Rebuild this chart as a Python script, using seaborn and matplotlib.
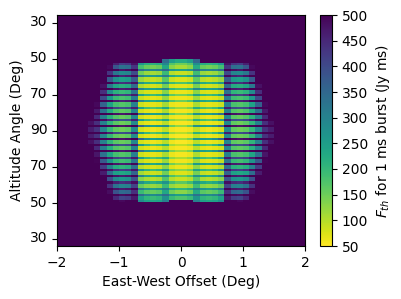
import numpy as np
import pandas as pd
import matplotlib
matplotlib.use("Agg")
import matplotlib.pyplot as plt
import seaborn as sns

# threshold values, 0.1 deg columns from -1.5 to 1.5
# bright part of each stripe, top to bottom
stripe_rows = [
    [500,500,500,500,500,500,500,500,500,500,500,500,340,250,225,225,250,350,500,500,500,500,500,500,500,500,500,500,500,500],
    [500,500,500,490,380,330,340,430,185,155,145,155,230,130,110,110,130,225,155,145,155,185,430,340,330,380,490,500,500,500],
    [500,500,500,430,320,285,295,395,150,120,110,120,195,100,88,88,100,190,120,110,120,150,395,295,285,320,430,500,500,500],
    [500,500,500,370,270,245,255,365,120,98,90,98,165,86,75,75,86,160,98,90,98,120,365,255,245,270,370,500,500,500],
    [500,500,480,320,235,215,225,345,105,86,78,86,145,76,68,68,76,140,86,78,86,105,345,225,215,235,320,480,500,500],
    [500,500,440,285,210,195,205,325,95,78,72,78,130,70,64,64,70,125,78,72,78,95,325,205,195,210,285,440,500,500],
    [500,500,400,260,195,180,190,310,90,74,68,74,120,67,61,61,67,115,74,68,74,90,310,190,180,195,260,400,500,500],
    [500,490,360,240,185,170,180,300,86,72,66,72,110,65,60,60,65,108,72,66,72,86,300,180,170,185,240,360,490,500],
    [500,470,330,225,175,160,170,295,84,70,64,70,105,63,58,58,63,102,70,64,70,84,295,170,160,175,225,330,470,500],
    [500,450,310,212,170,155,165,290,82,68,62,68,100,62,57,57,62,98,68,62,68,82,290,165,155,170,212,310,450,500],
    [480,440,300,205,165,150,160,285,80,67,61,67,98,60,55,55,60,95,67,61,67,80,285,160,150,165,205,300,440,480],
    [465,435,295,200,160,150,160,285,80,66,60,66,95,59,54,54,59,92,66,60,66,80,285,160,150,160,200,295,435,465],
    [465,435,295,200,160,150,160,285,80,66,60,66,95,58,53,53,58,92,66,60,66,80,285,160,150,160,200,295,435,465],
    [480,440,300,205,165,152,162,290,81,68,61,68,97,59,53,53,59,95,68,61,68,81,290,162,152,165,205,300,440,480],
    [500,450,310,215,172,160,170,295,83,70,63,70,100,61,54,54,61,98,70,63,70,83,295,170,160,172,215,310,450,500],
    [500,475,335,235,185,170,180,305,86,72,66,72,108,63,56,56,63,106,72,66,72,86,305,180,170,185,235,335,475,500],
    [500,495,375,265,200,185,195,320,92,76,70,76,118,67,59,59,67,115,76,70,76,92,320,195,185,200,265,375,495,500],
    [500,500,420,300,220,205,215,335,100,82,75,82,130,73,64,64,73,125,82,75,82,100,335,215,205,220,300,420,500,500],
    [500,500,465,340,245,230,240,355,112,92,84,92,148,84,72,72,84,142,92,84,92,112,355,240,230,245,340,465,500,500],
    [500,500,500,390,285,260,270,380,130,108,98,108,170,100,86,86,100,165,108,98,108,130,380,270,260,285,390,500,500,500],
    [500,500,500,435,330,295,305,410,155,130,120,130,195,120,105,105,120,190,130,120,130,155,410,305,295,330,435,500,500,500],
    [500,500,500,485,385,345,355,440,195,165,155,165,230,150,130,130,150,225,165,155,165,195,440,355,345,385,485,500,500,500],
    [500,500,500,500,450,410,420,470,240,205,195,205,270,195,175,175,195,265,205,195,205,240,470,420,410,450,500,500,500,500],
]
# dark gap under each stripe, top to bottom
gap_rows = [
    [500,500,500,500,460,420,430,480,260,220,210,220,290,170,150,150,170,280,220,210,220,260,480,430,420,460,500,500,500,500],
    [500,500,500,500,495,475,485,500,340,300,290,300,350,260,240,240,260,340,300,290,300,340,500,485,475,495,500,500,500,500],
    [500,500,500,500,480,455,465,490,305,265,255,265,320,230,210,210,230,310,265,255,265,305,490,465,455,480,500,500,500,500],
    [500,500,500,500,460,435,445,480,265,225,210,225,285,195,175,175,195,275,225,210,225,265,480,445,435,460,500,500,500,500],
    [500,500,500,500,480,460,470,490,295,250,235,250,300,200,180,180,200,290,250,235,250,295,490,470,460,480,500,500,500,500],
    [500,500,500,490,440,415,425,470,250,205,190,205,255,165,145,145,165,245,205,190,205,250,470,425,415,440,490,500,500,500],
    [500,500,500,495,470,455,465,490,300,240,220,235,275,175,150,150,175,265,235,220,240,300,490,465,455,470,495,500,500,500],
    [500,500,495,460,410,390,400,460,240,190,170,185,230,140,120,120,140,220,185,170,190,240,460,400,390,410,460,495,500,500],
    [500,500,500,495,480,470,480,500,335,270,240,250,280,165,135,135,165,270,250,240,270,335,500,480,470,480,495,500,500,500],
    [500,500,485,450,400,380,390,460,250,195,170,185,225,130,110,110,130,215,185,170,195,250,460,390,380,400,450,485,500,500],
    [500,500,500,495,485,475,485,500,355,280,245,255,280,155,125,125,155,270,255,245,280,355,500,485,475,485,495,500,500,500],
    [500,500,490,460,410,390,400,465,260,200,170,185,220,120,100,100,120,210,185,170,200,260,465,400,390,410,460,490,500,500],
    [500,500,500,495,485,475,485,500,355,280,245,255,275,145,118,118,145,265,255,245,280,355,500,485,475,485,495,500,500,500],
    [500,500,490,460,410,390,400,465,260,200,170,185,215,115,95,95,115,205,185,170,200,260,465,400,390,410,460,490,500,500],
    [500,500,500,495,480,470,480,500,335,265,235,250,270,140,115,115,140,260,250,235,265,335,500,480,470,480,495,500,500,500],
    [500,500,495,465,420,400,410,470,255,200,175,190,220,125,105,105,125,210,190,175,200,255,470,410,400,420,465,495,500,500],
    [500,500,500,495,475,460,470,495,310,250,225,240,265,150,125,125,150,255,240,225,250,310,495,470,460,475,495,500,500,500],
    [500,500,500,480,435,415,425,475,260,210,190,205,245,150,130,130,150,235,205,190,210,260,475,425,415,435,480,500,500,500],
    [500,500,500,500,480,465,475,495,300,245,225,240,280,180,155,155,180,270,240,225,245,300,495,475,465,480,500,500,500,500],
    [500,500,500,495,460,440,450,485,275,230,215,230,270,190,165,165,190,260,230,215,230,275,485,450,440,460,495,500,500,500],
    [500,500,500,500,480,465,475,495,320,270,250,265,310,225,205,205,225,300,265,250,270,320,495,475,465,480,500,500,500,500],
    [500,500,500,500,495,485,490,500,350,300,285,300,345,270,250,250,270,335,300,285,300,350,500,490,485,495,500,500,500,500],
    [500,500,500,500,500,490,500,500,285,245,235,245,305,500,500,500,500,305,245,235,245,285,500,500,490,500,500,500,500,500],
]
x_ticks = [-2, -1, 0, 1, 2]
alt_labels = [30, 50, 70, 90, 70, 50, 30]
alt_offsets = [-60, -40, -20, 0, 20, 40, 60]

rows = []
for b, g in zip(stripe_rows, gap_rows):
    rows += [b, b, g]
fth = np.pad(np.array(rows), ((21, 21), (5, 5)), constant_values=500)
df = pd.DataFrame(fth)

fig = plt.figure(figsize=(4.01, 2.99), dpi=100)
ax = fig.add_axes([57/401, 1 - 246/299, 248/401, 231/299])
cax = fig.add_axes([320/401, 1 - 246/299, 12/401, 231/299])

sns.heatmap(df, ax=ax, cbar_ax=cax, cmap="viridis_r", vmin=50, vmax=500, linewidths=0, rasterized=True,
            cbar_kws={"ticks": np.arange(50, 501, 50)})
cbar = ax.collections[0].colorbar
cbar.set_label(r"$F_{th}$ for 1 ms burst (Jy ms)", fontsize=10)
cbar.ax.tick_params(labelsize=10)
cbar.outline.set_visible(True)
cbar.outline.set_edgecolor("black")
cbar.outline.set_linewidth(0.8)

ncol = fth.shape[1]
nrow = fth.shape[0]
ax.set_xticks([(v + 2) / 4 * ncol for v in x_ticks])
ax.set_xticklabels(["\u2212%d" % abs(v) if v < 0 else str(v) for v in x_ticks], rotation=0, fontsize=10)
ax.set_yticks([nrow / 2 + v * 1.8 / (231 / nrow) for v in alt_offsets])
ax.set_yticklabels(alt_labels, rotation=0, fontsize=10)
ax.set_xlabel("East-West Offset (Deg)", fontsize=10)
ax.set_ylabel("Altitude Angle (Deg)", fontsize=10)
for side in ax.spines.values():
    side.set_visible(True)
    side.set_linewidth(0.8)

fig.savefig("out.png", dpi=100)
